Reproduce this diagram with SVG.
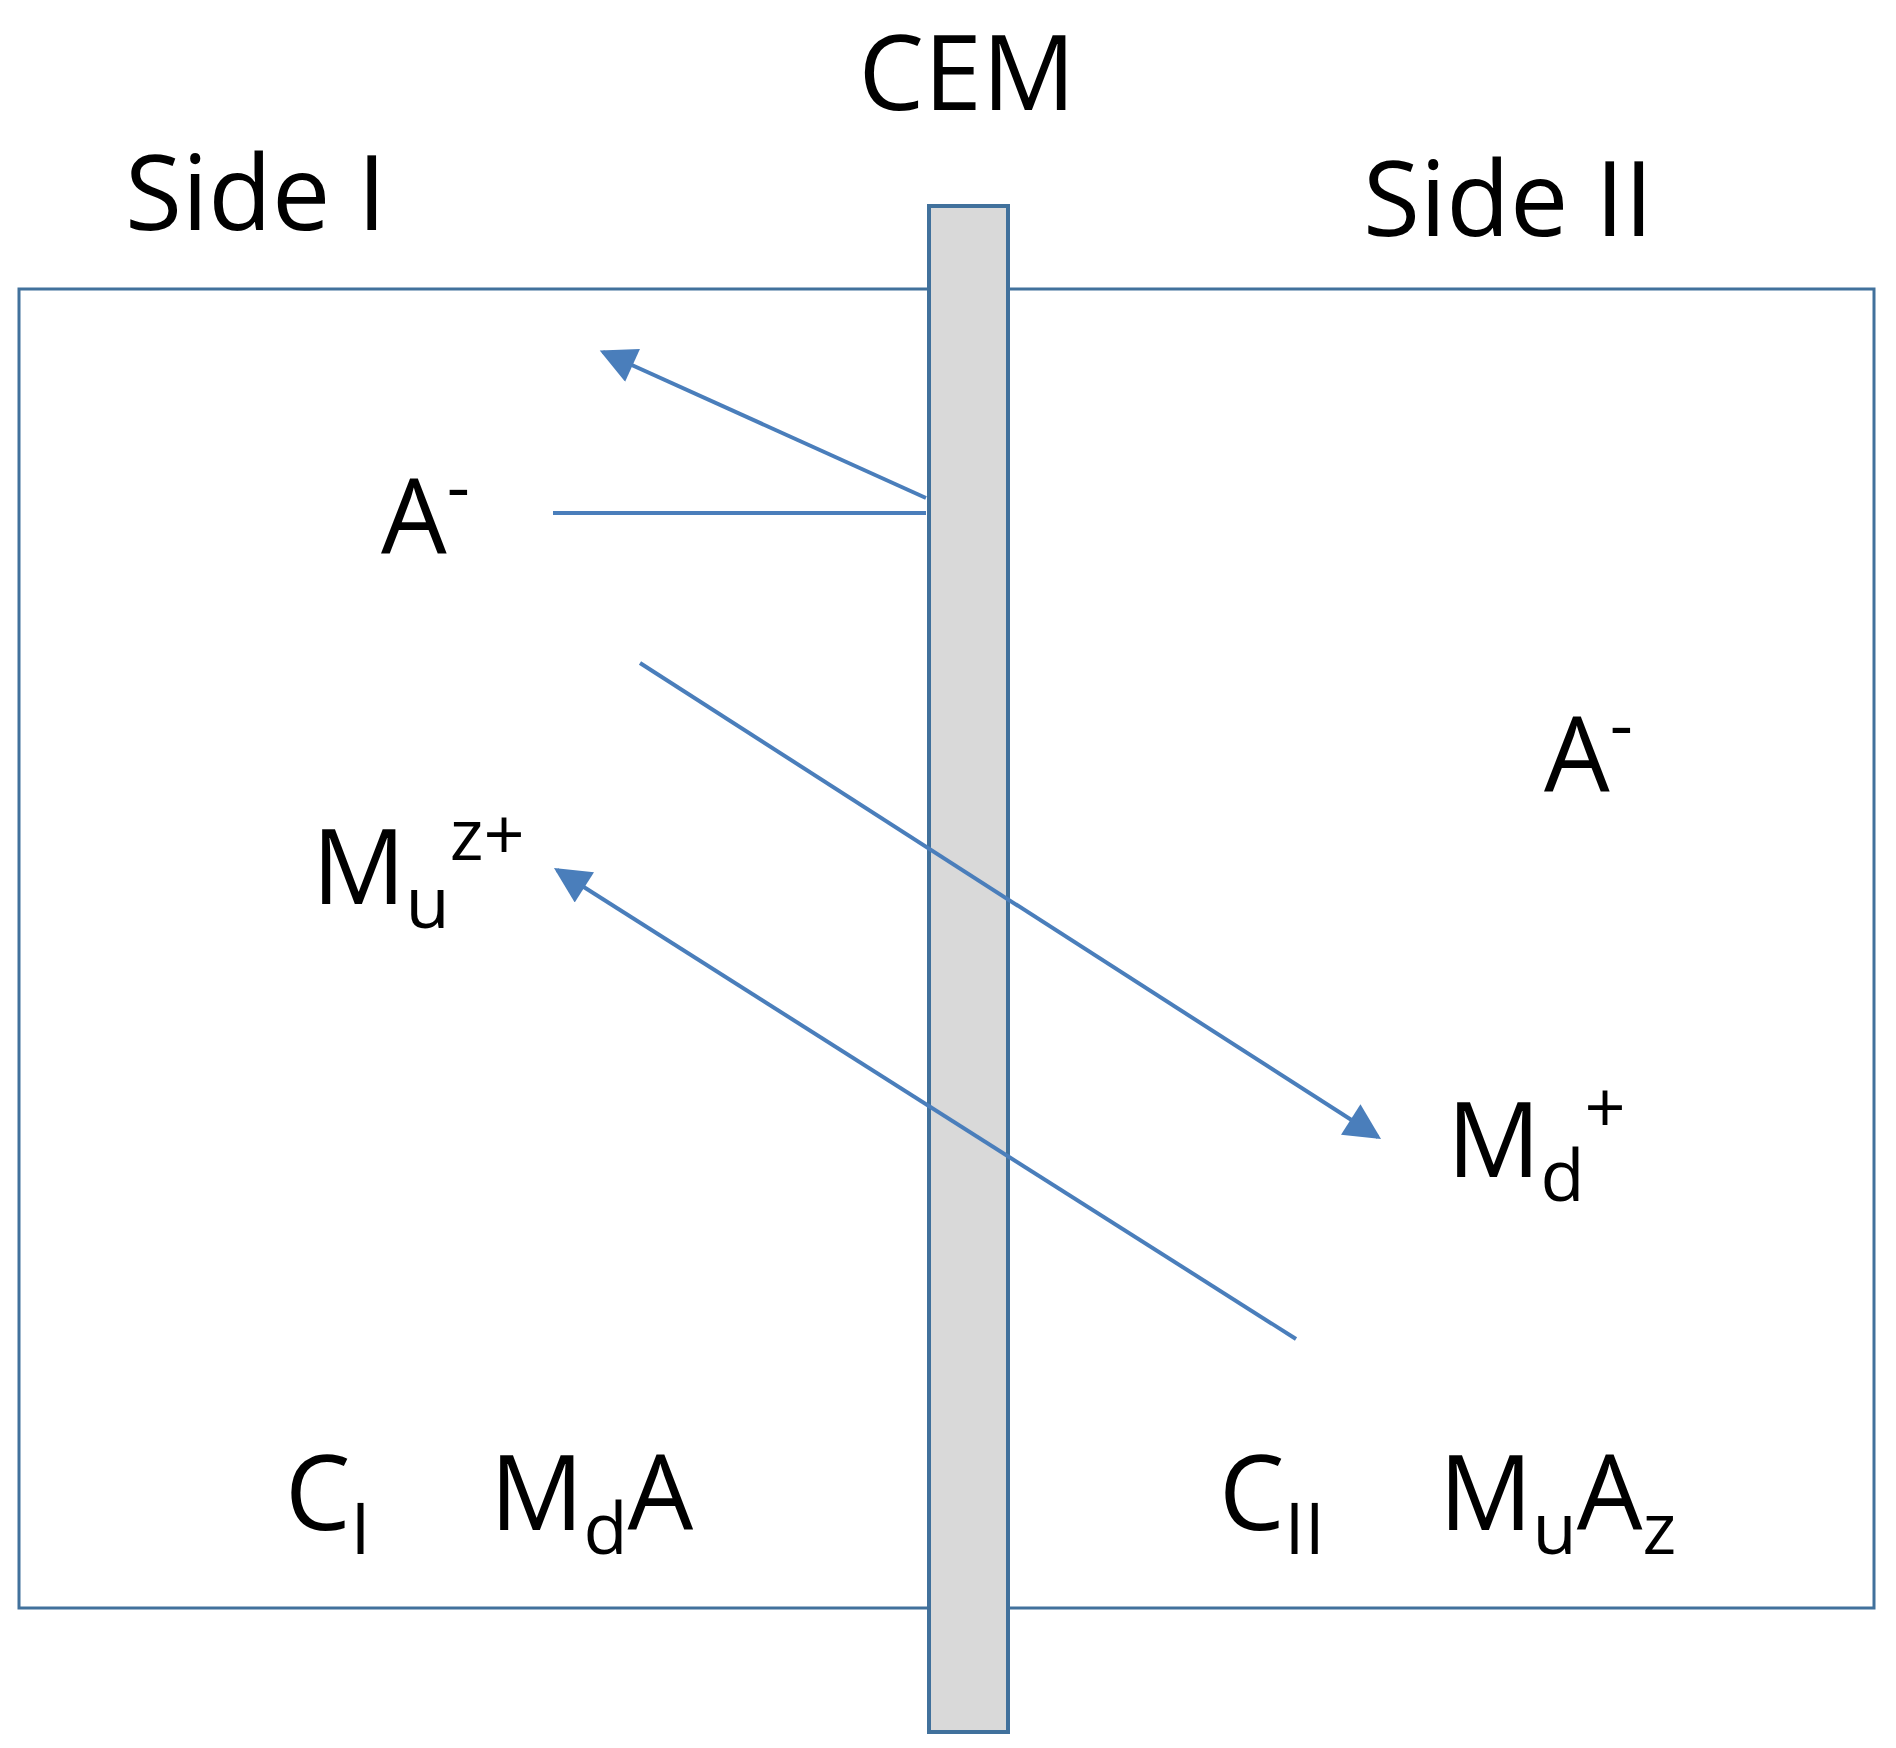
<svg xmlns="http://www.w3.org/2000/svg" width="1896" height="1748" viewBox="0 0 1896 1748">
<style>
.t{font-family:"Open Sans","Liberation Sans",sans-serif;font-size:104px;fill:#000}
.c{stroke:#4a7ebb;stroke-width:4;fill:none}
</style>
<defs><marker id="a" viewBox="0 0 10 10" refX="9" refY="5" markerWidth="40" markerHeight="36" orient="auto" markerUnits="userSpaceOnUse"><path d="M0,0 L10,5 L0,10 z" fill="#4a7ebb"/></marker></defs>
<rect width="1896" height="1748" fill="#fff"/>
<g id="box"><rect x="19" y="289" width="1855" height="1319" fill="none" stroke="#41719c" stroke-width="3"/></g>
<g id="cem"><rect x="929" y="206" width="79" height="1526" fill="#d9d9d9" stroke="#41719c" stroke-width="4"/></g>
<g id="connectors">
<line class="c" x1="553" y1="513" x2="926" y2="513"/>
<line class="c" x1="926" y1="498" x2="603" y2="352" marker-end="url(#a)"/>
<line class="c" x1="640" y1="663" x2="1378" y2="1137" marker-end="url(#a)"/>
<line class="c" x1="1296" y1="1339" x2="557" y2="870" marker-end="url(#a)"/>
</g>
<g id="labels">
<text class="t" x="967" y="110" text-anchor="middle" font-size="114">CEM</text>
<text class="t" x="125" y="230">Side I</text>
<text class="t" x="1363" y="236">Side II</text>
<text class="t" x="381" y="554">A<tspan font-size="72" dy="-42">-</tspan></text>
<text class="t" x="1544" y="792">A<tspan font-size="72" dy="-42">-</tspan></text>
<text class="t" x="312" y="904">M<tspan font-size="72" dy="24">u</tspan><tspan font-size="72" dy="-68">z+</tspan></text>
<text class="t" x="1447" y="1177">M<tspan font-size="72" dy="24">d</tspan><tspan font-size="72" dy="-68">+</tspan></text>
<text class="t" x="285" y="1530">C<tspan font-size="72" dy="24">I</tspan></text>
<text class="t" x="490" y="1530">M<tspan font-size="72" dy="24">d</tspan><tspan dy="-24">A</tspan></text>
<text class="t" x="1219" y="1530">C<tspan font-size="72" dy="24">II</tspan></text>
<text class="t" x="1439" y="1530">M<tspan font-size="72" dy="24">u</tspan><tspan dy="-24">A</tspan><tspan font-size="72" dy="24">z</tspan></text>
</g>
</svg>
